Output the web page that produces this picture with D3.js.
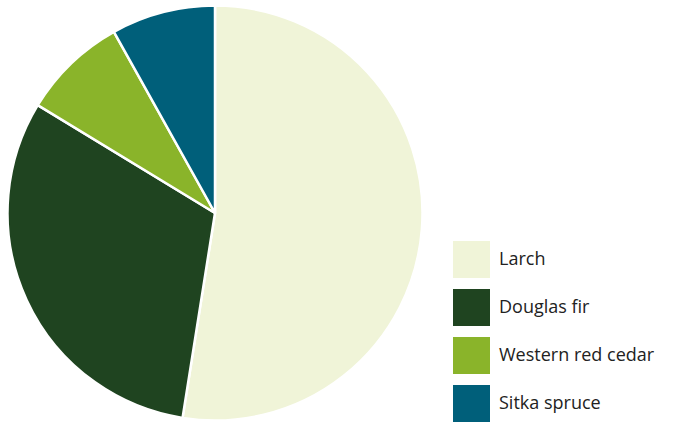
<!DOCTYPE html>
<html>
<head>
<meta charset="utf-8">
<script src="https://cdn.jsdelivr.net/npm/d3@7"></script>
<style>
  html, body { margin: 0; padding: 0; background: #ffffff; }
  svg { display: block; }
  text { font-family: "Open Sans", sans-serif; }
</style>
</head>
<body>
<svg id="chart" width="679" height="423"></svg>
<script>
// Share of planted area by species (%)
const species = ["Larch", "Douglas fir", "Western red cedar", "Sitka spruce"];
const shares = [52.5, 31.2, 8.2, 8.1];
const colours = ["#f0f4d8", "#1f4420", "#8ab42a", "#005f7a"];

const svg = d3.select("#chart");
const cx = 215, cy = 213, radius = 207.5;

const colour = d3.scaleOrdinal().domain(species).range(colours);

const pie = d3.pie().sort(null).value(d => d.value);
const arc = d3.arc().innerRadius(0).outerRadius(radius);

const data = species.map((name, i) => ({ name, value: shares[i] }));

svg.append("g")
  .attr("transform", `translate(${cx},${cy})`)
  .selectAll("path")
  .data(pie(data))
  .join("path")
  .attr("d", arc)
  .attr("fill", d => colour(d.data.name))
  .attr("stroke", "#ffffff")
  .attr("stroke-width", 2.5)
  .attr("stroke-linejoin", "round");

// Legend
const legend = svg.append("g").attr("transform", "translate(453,241)");
const rows = legend.selectAll("g")
  .data(species)
  .join("g")
  .attr("transform", (d, i) => `translate(0,${i * 48})`);

rows.append("rect")
  .attr("width", 37)
  .attr("height", 37)
  .attr("fill", d => colour(d));

rows.append("text")
  .attr("x", 46)
  .attr("y", 24)
  .attr("font-size", 18)
  .attr("fill", "#222222")
  .text(d => d);
</script>
</body>
</html>
